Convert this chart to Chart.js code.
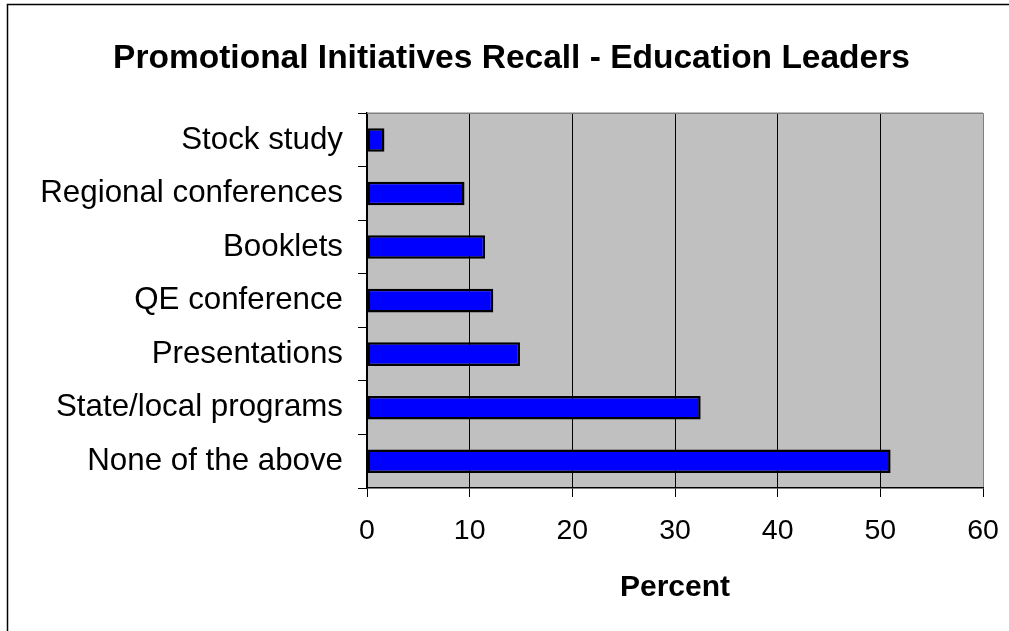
<!DOCTYPE html>
<html>
<head>
<meta charset="utf-8">
<title>Promotional Initiatives Recall - Education Leaders</title>
<script src="https://cdn.jsdelivr.net/npm/chart.js@4.4.1/dist/chart.umd.min.js"></script>
<style>
    html, body { margin: 0; padding: 0; background: #fff; overflow: hidden; }
    #wrap { width: 1009px; height: 631px; position: relative; }
</style>
</head>
<body>
<div id="wrap"><canvas id="chart"></canvas></div>
<script>
// data
const categories = ['Stock study', 'Regional conferences', 'Booklets', 'QE conference',
                    'Presentations', 'State/local programs', 'None of the above'];
const percentValues = [1.7, 9.5, 11.5, 12.3, 14.9, 32.5, 51.0];
const xTicks = [0, 10, 20, 30, 40, 50, 60];

const fontFamily = "Arial, 'Liberation Sans', sans-serif";
Chart.defaults.color = '#000';
Chart.defaults.font.family = fontFamily;

// grey plot area + grey top edge
const plotBackground = {
    id: 'plotBackground',
    beforeDraw(chart) {
        const { ctx, chartArea: a } = chart;
        ctx.save();
        ctx.fillStyle = '#C0C0C0';
        ctx.fillRect(a.left, a.top, a.right - a.left, a.bottom - a.top);
        ctx.restore();
    },
    beforeDatasetsDraw(chart) {
        const { ctx, chartArea: a } = chart;
        ctx.save();
        ctx.strokeStyle = '#808080';
        ctx.lineWidth = 1.5;
        ctx.beginPath();
        ctx.moveTo(a.left, a.top);
        ctx.lineTo(a.right, a.top);
        ctx.stroke();
        ctx.restore();
    }
};

// outer frame (only the top and left edges show in the picture)
const outerFrame = {
    id: 'outerFrame',
    afterDraw(chart) {
        const ctx = chart.ctx;
        ctx.save();
        ctx.strokeStyle = '#000';
        ctx.lineWidth = 1.5;
        ctx.beginPath();
        ctx.moveTo(7.5, chart.height);
        ctx.lineTo(7.5, 4.5);
        ctx.lineTo(chart.width, 4.5);
        ctx.stroke();
        ctx.restore();
    }
};

const config = {
    type: 'bar',
    data: {
        labels: categories,
        datasets: [{
            label: 'Percent',
            data: percentValues,
            backgroundColor: '#0000FF',
            borderColor: '#000',
            borderWidth: 2.5,
            borderSkipped: false,
            barPercentage: 0.44,
            categoryPercentage: 1.0
        }]
    },
    options: {
        indexAxis: 'y',
        responsive: true,
        maintainAspectRatio: false,
        animation: false,
        layout: {
            padding: { left: 20, right: 6, top: 0, bottom: 0 }
        },
        plugins: {
            legend: { display: false },
            tooltip: { enabled: false },
            title: {
                display: true,
                text: 'Promotional Initiatives Recall - Education Leaders',
                font: { size: 33.5, weight: 'bold', family: fontFamily },
                color: '#000',
                padding: { top: 39, bottom: 34 }
            }
        },
        scales: {
            x: {
                min: 0,
                max: 60,
                afterBuildTicks: (scale) => {
                    scale.ticks = xTicks.map(v => ({ value: v }));
                },
                afterFit: (scale) => {
                    scale.height = 143;
                    scale.paddingRight = 26;
                },
                grid: {
                    color: (c) => (c.tick && c.tick.value === 60) ? '#808080' : '#000',
                    tickColor: '#000',
                    tickLength: 9,
                    lineWidth: 1
                },
                border: { color: '#000', width: 1.5 },
                ticks: {
                    padding: 17,
                    font: { size: 28.5, family: fontFamily },
                    color: '#000'
                },
                title: {
                    display: true,
                    text: 'Percent',
                    font: { size: 30, weight: 'bold', family: fontFamily },
                    color: '#000',
                    padding: { top: 0, bottom: 25 }
                }
            },
            y: {
                afterFit: (scale) => {
                    scale.width = 347;
                },
                grid: {
                    drawOnChartArea: false,
                    offset: true,
                    color: '#000',
                    tickColor: '#000',
                    tickLength: 9
                },
                border: { color: '#000', width: 1.5 },
                ticks: {
                    padding: 15,
                    font: { size: 31.3, family: fontFamily },
                    color: '#000'
                }
            }
        }
    },
    plugins: [plotBackground, outerFrame]
};

const ctx = document.getElementById('chart').getContext('2d');
new Chart(ctx, config);
</script>
</body>
</html>
